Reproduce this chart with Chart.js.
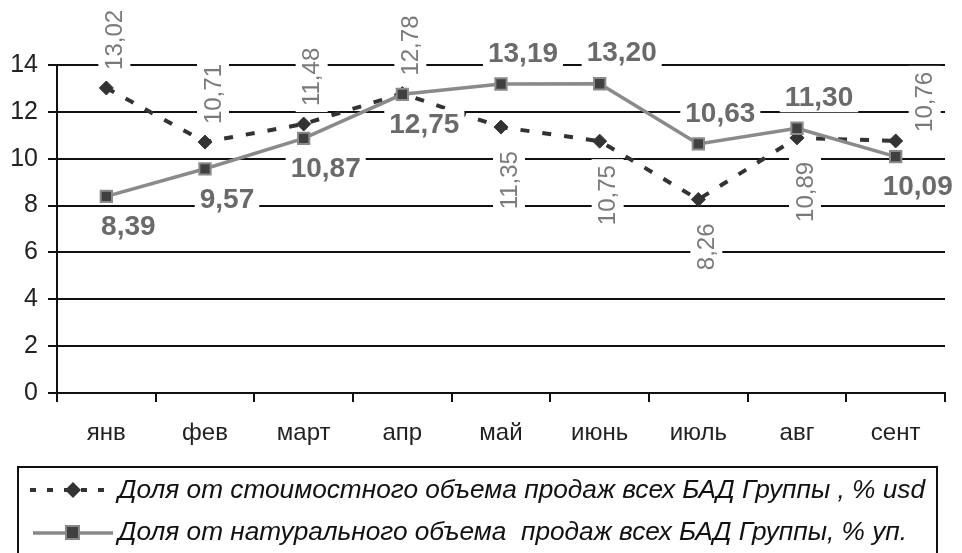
<!DOCTYPE html>
<html>
<head>
<meta charset="utf-8">
<script src="https://cdn.jsdelivr.net/npm/chart.js@4.4.1/dist/chart.umd.min.js"></script>
<style>
  html, body { margin: 0; padding: 0; background: #fff; }
  #wrap { width: 962px; height: 553px; }
</style>
</head>
<body>
<div id="wrap"><canvas id="salesChart"></canvas></div>
<script>
const months = ['янв', 'фев', 'март', 'апр', 'май', 'июнь', 'июль', 'авг', 'сент'];
const valueShare = [13.02, 10.71, 11.48, 12.78, 11.35, 10.75, 8.26, 10.89, 10.76];
const unitShare = [8.39, 9.57, 10.87, 12.75, 13.19, 13.20, 10.63, 11.30, 10.09];
const yTicks = [0, 2, 4, 6, 8, 10, 12, 14];
const valueLabel = 'Доля от стоимостного объема продаж всех БАД Группы , % usd';
const unitLabel = 'Доля от натурального объема  продаж всех БАД Группы, % уп.';
// where each data label sits relative to its point
const valueLabelPos = ['top', 'top', 'top', 'top', 'bottom', 'bottom', 'bottom', 'bottom', 'right'];
const unitLabelPos = ['bottom', 'bottom', 'bottom', 'bottom', 'top', 'top', 'top', 'top', 'bottom'];

let fmt = (v) => v.toFixed(2).replace('.', ',');

const pointLabels = {
    id: 'pointLabels',
    afterDatasetsDraw(chart) {
        const ctx = chart.ctx;
        ctx.save();
        // rotated labels for the dashed series
        let meta = chart.getDatasetMeta(0);
        ctx.font = '24px Arial, "Liberation Sans", sans-serif';
        meta.data.forEach((pt, i) => {
            let txt = fmt(valueShare[i]);
            let w = ctx.measureText(txt).width;
            let cx = pt.x + 8, y0, y1;
            if (valueLabelPos[i] === 'top') { y1 = pt.y - 18; y0 = y1 - w; }
            else if (valueLabelPos[i] === 'bottom') { y0 = pt.y + 24; y1 = y0 + w; }
            else { cx = pt.x + 29; y1 = pt.y - 9; y0 = y1 - w; }
            ctx.fillStyle = '#fff';
            ctx.fillRect(cx - 16, y0 - 6, 32, w + 12);
            ctx.save();
            ctx.translate(cx, y1);
            ctx.rotate(-Math.PI / 2);
            ctx.fillStyle = '#7a7a7a';
            ctx.textAlign = 'left';
            ctx.textBaseline = 'middle';
            ctx.fillText(txt, 0, 1);
            ctx.restore();
        });
        // bold labels for the solid series
        meta = chart.getDatasetMeta(1);
        ctx.font = 'bold 28px Arial, "Liberation Sans", sans-serif';
        meta.data.forEach((pt, i) => {
            let txt = fmt(unitShare[i]);
            let w = ctx.measureText(txt).width;
            let cx = pt.x + 22;
            let cy = unitLabelPos[i] === 'top' ? pt.y - 31 : pt.y + 30;
            ctx.fillStyle = '#fff';
            ctx.fillRect(cx - w / 2 - 5, cy - 15, w + 10, 30);
            ctx.fillStyle = '#6a6a6a';
            ctx.textAlign = 'center';
            ctx.textBaseline = 'middle';
            ctx.fillText(txt, cx, cy + 1);
        });
        ctx.restore();
    },
    afterDraw(chart) {
        const ctx = chart.ctx;
        ctx.save();
        ctx.strokeStyle = '#111';
        ctx.lineWidth = 2;
        ctx.strokeRect(18, 467, 919, 100);

        // sample 1: dashed dark with diamond
        ctx.strokeStyle = '#333';
        ctx.lineWidth = 4;
        ctx.setLineDash([6, 11]);
        ctx.beginPath();
        ctx.moveTo(30, 490);
        ctx.lineTo(113, 490);
        ctx.stroke();
        ctx.setLineDash([]);
        ctx.fillStyle = '#333';
        ctx.beginPath();
        ctx.moveTo(73, 482); ctx.lineTo(81, 490); ctx.lineTo(73, 498); ctx.lineTo(65, 490);
        ctx.closePath();
        ctx.fill();

        // sample 2: solid gray with square
        ctx.strokeStyle = '#888';
        ctx.lineWidth = 3.5;
        ctx.beginPath();
        ctx.moveTo(33, 533);
        ctx.lineTo(113, 533);
        ctx.stroke();
        ctx.fillStyle = '#404040';
        ctx.fillRect(66, 526, 13, 13);
        ctx.strokeStyle = '#888';
        ctx.lineWidth = 2;
        ctx.strokeRect(66, 526, 13, 13);

        ctx.fillStyle = '#111';
        ctx.textBaseline = 'middle';
        ctx.textAlign = 'left';
        ctx.font = 'italic 25px Arial, "Liberation Sans", sans-serif';
        let k = 807 / ctx.measureText(valueLabel).width;
        [[valueLabel, 491], [unitLabel, 533]].forEach(([txt, y]) => {
            ctx.save();
            ctx.translate(118, y);
            ctx.scale(k, 1);
            ctx.fillText(txt, 0, 0);
            ctx.restore();
        });
        ctx.restore();
    }
};

const ctx = document.getElementById('salesChart').getContext('2d');
const salesChart = new Chart(ctx, {
    type: 'line',
    data: {
        labels: months,
        datasets: [{
            label: valueLabel,
            data: valueShare,
            borderColor: '#333',
            borderWidth: 4,
            borderDash: [9, 13],
            pointStyle: 'rectRot',
            pointRadius: 7,
            pointBackgroundColor: '#333',
            pointBorderColor: '#333',
            pointBorderWidth: 1,
            tension: 0,
            order: 1
        }, {
            label: unitLabel,
            data: unitShare,
            borderColor: '#8a8a8a',
            borderWidth: 3.5,
            pointStyle: 'rect',
            pointRadius: 8,
            pointBackgroundColor: '#404040',
            pointBorderColor: '#8a8a8a',
            pointBorderWidth: 2,
            tension: 0,
            order: 0
        }]
    },
    options: {
        responsive: true,
        maintainAspectRatio: false,
        animation: false,
        layout: { padding: { top: 65, right: 17, left: 0, bottom: 0 } },
        plugins: {
            legend: { display: false },
            tooltip: { enabled: false }
        },
        scales: {
            x: {
                offset: true,
                grid: {
                    offset: true,
                    drawOnChartArea: false,
                    drawTicks: true,
                    tickLength: 9,
                    color: '#111',
                    lineWidth: 2
                },
                border: { display: true, color: '#111', width: 2 },
                ticks: {
                    color: '#222',
                    font: { size: 24, family: 'Arial, "Liberation Sans", sans-serif' },
                    padding: 17,
                    maxRotation: 0,
                    autoSkip: false
                },
                afterFit: (s) => { s.height = 160; }
            },
            y: {
                min: 0,
                max: 14,
                afterBuildTicks: (s) => { s.ticks = yTicks.map(v => ({ value: v })); },
                grid: {
                    color: '#111',
                    lineWidth: 2,
                    tickLength: 9
                },
                border: { display: true, color: '#111', width: 2 },
                ticks: {
                    color: '#222',
                    font: { size: 25, family: 'Arial, "Liberation Sans", sans-serif' },
                    padding: 10
                },
                afterFit: (s) => { s.width = 57; }
            }
        }
    },
    plugins: [pointLabels]
});
</script>
</body>
</html>
